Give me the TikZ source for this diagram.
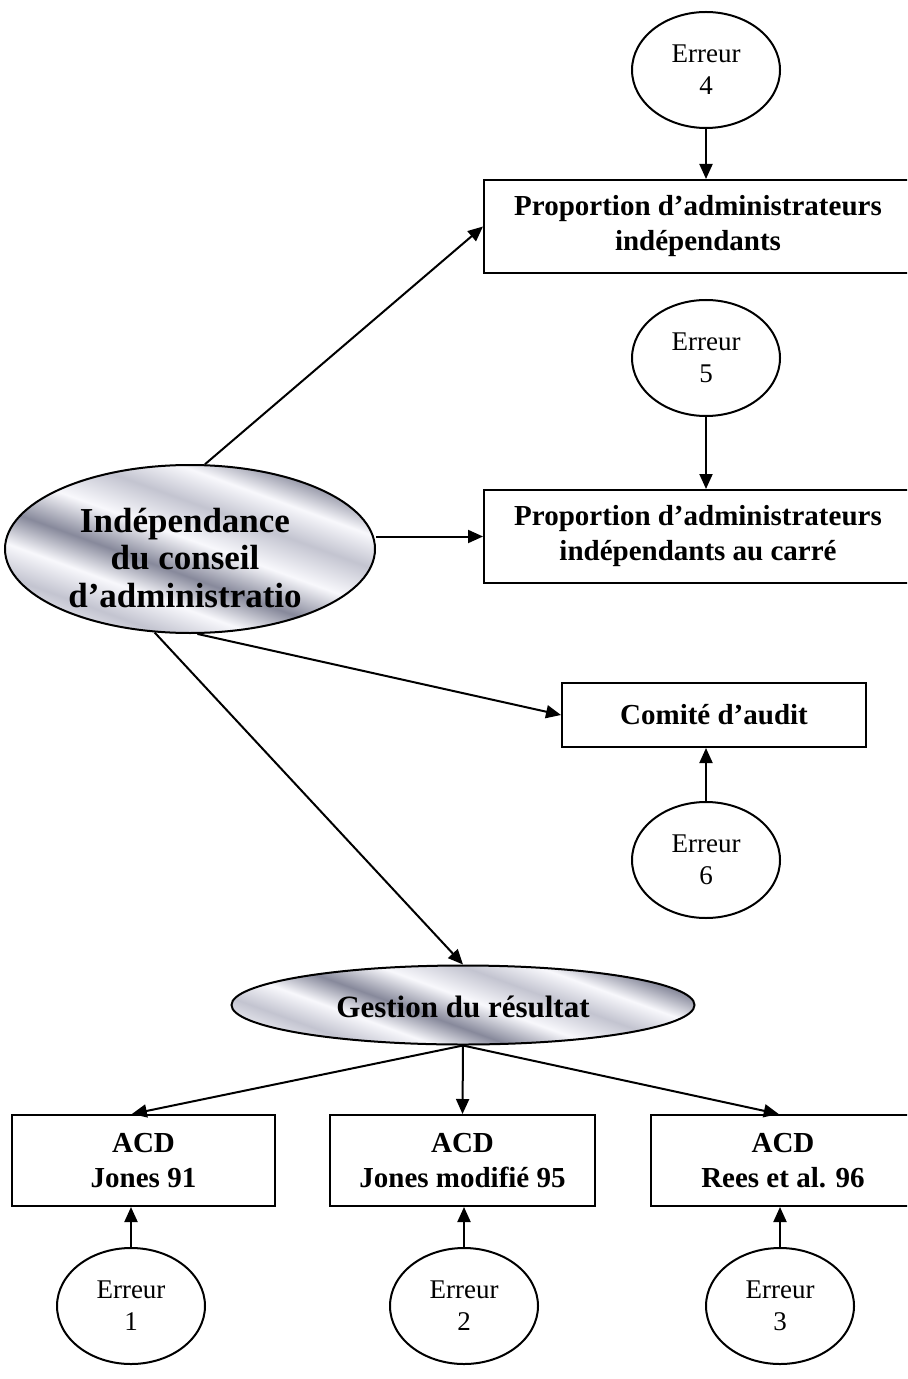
\documentclass[tikz,border=0pt]{standalone}
\usepackage{fontspec}
\setmainfont{Liberation Serif}
\usetikzlibrary{shapes.geometric,arrows.meta,calc}
\definecolor{metD}{RGB}{135,137,155}
\definecolor{metM}{RGB}{195,196,208}
\definecolor{metL}{RGB}{248,248,252}
\pgfdeclareverticalshading{metal}{100bp}{
 color(0bp)=(metM); color(8bp)=(metL); color(14bp)=(metD); color(22bp)=(metL);
 color(30bp)=(metM); color(37bp)=(metL); color(44bp)=(metD); color(52bp)=(metL);
 color(60bp)=(metM); color(67bp)=(metL); color(74bp)=(metD); color(82bp)=(metL);
 color(90bp)=(metM); color(100bp)=(metL)}
\begin{document}
\begin{tikzpicture}[x=0.5pt,y=-0.5pt,
  line width=1pt,
  arr/.style={-{Triangle[length=7.5pt,width=6.5pt]}},
  errell/.style={ellipse,draw,fill=white,inner sep=0pt,minimum width=74pt,minimum height=58pt,
     align=center,font=\fontsize{13.5pt}{16pt}\selectfont},
  bbox/.style={rectangle,draw,fill=white,inner sep=0pt,align=center,
     font=\fontsize{14.5pt}{17.5pt}\selectfont\bfseries},
  metell/.style={ellipse,draw,shading=metal,shading angle=-20,inner sep=0pt},
  mettxt/.style={align=center,inner sep=0pt}]
\useasboundingbox (0,0) rectangle (907,1379);
\clip (0,0) rectangle (907,1379);
% error ellipses
\node[errell] (e4) at (706,70) {Erreur\\4};
\node[errell] (e5) at (706,358) {Erreur\\5};
\node[errell] (e6) at (706,860) {Erreur\\6};
\node[errell] (e1) at (131,1306) {Erreur\\1};
\node[errell] (e2) at (464,1306) {Erreur\\2};
\node[errell] (e3) at (780,1306) {Erreur\\3};
% boxes
\node[bbox,minimum width=214pt,minimum height=46.5pt] (b1) at (698,226.5) {Proportion d’administrateurs\\indépendants};
\node[bbox,minimum width=214pt,minimum height=46.5pt] (b2) at (698,536.5) {Proportion d’administrateurs\\indépendants au carré};
\node[bbox,minimum width=152pt,minimum height=32pt] (com) at (714,715) {Comité d’audit};
\node[bbox,minimum width=131.5pt,minimum height=45.5pt] (ba) at (143.5,1160.5) {ACD\\Jones 91};
\node[bbox,minimum width=132.5pt,minimum height=45.5pt] (bb) at (462.5,1160.5) {ACD\\Jones modifié 95};
\node[bbox,minimum width=132pt,minimum height=45.5pt] (bc) at (783,1160.5) {ACD\\Rees et al. 96};
% shaded ellipses
\node[metell,minimum width=185pt,minimum height=84pt] (big) at (190,549) {};
\node[mettxt,font=\fontsize{17.5pt}{18.75pt}\selectfont\bfseries] (bigt) at (185,558) {Indépendance\\du conseil\\d’administratio};
\node[metell,minimum width=231.5pt,minimum height=39.5pt] (g) at (463,1005) {};
\node[mettxt,font=\fontsize{15.5pt}{18pt}\selectfont\bfseries] (gt) at (463,1007) {Gestion du résultat};
% connectors
\draw[arr] (e4.south) -- (e4.south |- b1.north);
\draw[arr] (e5.south) -- (e5.south |- b2.north);
\draw[arr] (e6.north) -- (e6.north |- com.south);
\draw[arr] (e1.north) -- (e1.north |- ba.south);
\draw[arr] (e2.north) -- (e2.north |- bb.south);
\draw[arr] (e3.north) -- (e3.north |- bc.south);
\draw[arr] (big.80) -- (b1.west);
\draw[arr] (big.east |- b2.west) -- (b2.west);
\draw[arr] (big.-85) -- (com.west);
\draw[arr] (big.-113) -- (g.north);
\draw[arr] (g.south) -- ($(ba.north west)!0.456!(ba.north east)$);
\draw[arr] (g.south) -- (bb.north);
\draw[arr] (g.south) -- ($(bc.north west)!0.484!(bc.north east)$);
\end{tikzpicture}
\end{document}
